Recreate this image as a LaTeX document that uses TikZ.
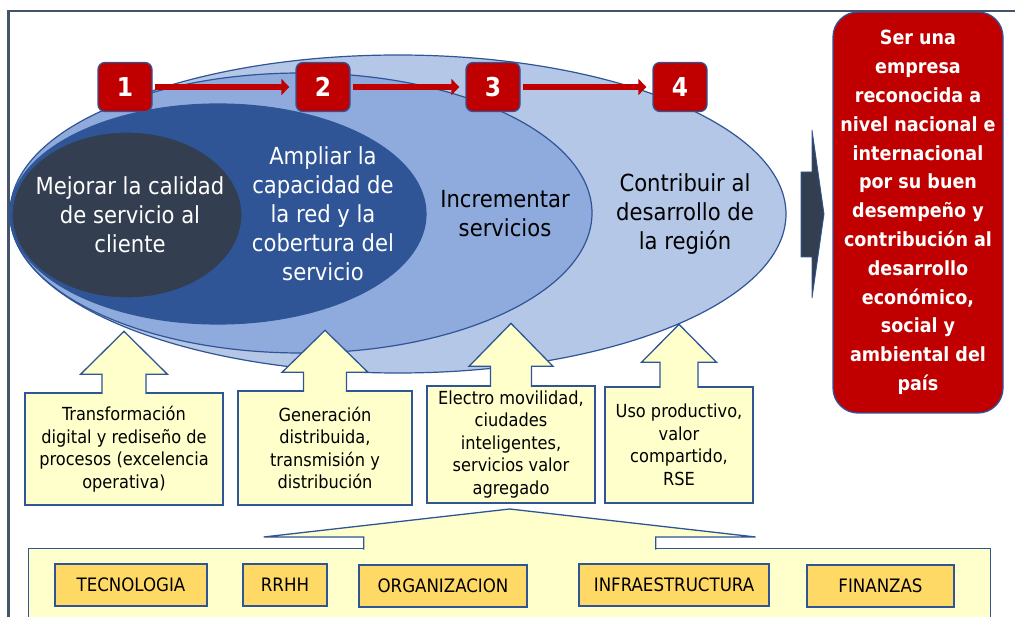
\documentclass[tikz,border=0pt]{standalone}
\usepackage{fontspec}
\setmainfont{DejaVu Sans Condensed}
\usetikzlibrary{arrows.meta,shapes.geometric}

\definecolor{lightblue}{HTML}{B4C7E7}
\definecolor{midblue}{HTML}{8FAADC}
\definecolor{deepblue}{HTML}{2F5597}
\definecolor{slate}{HTML}{333F50}
\definecolor{edgeblue}{HTML}{2F5597}
\definecolor{framegray}{HTML}{44546A}
\definecolor{goalred}{HTML}{C00000}
\definecolor{paleyellow}{HTML}{FFFFCC}
\definecolor{gold}{HTML}{FFD966}

\tikzset{
  ring/.style={ellipse, draw=edgeblue, line width=1.2pt, inner sep=0pt},
  stepbox/.style={rectangle, rounded corners=7pt, fill=goalred, draw=edgeblue,
    line width=1.3pt, minimum width=54pt, minimum height=49pt, text=white,
    font=\fontsize{26}{30}\selectfont\bfseries},
  steparrow/.style={draw=goalred, line width=6pt,
    -{Triangle[length=8pt,width=16pt]}, shorten <=2pt, shorten >=6pt},
  inside/.style={align=center, inner sep=0pt, font=\fontsize{23.5}{29}\selectfont},
  callbox/.style={rectangle, fill=paleyellow, draw=edgeblue, line width=1.3pt,
    align=center, inner sep=0pt, font=\fontsize{18}{22.5}\selectfont},
  shaftline/.style={fill=paleyellow, draw=edgeblue, line width=1.3pt, line join=miter},
  pillar/.style={rectangle, fill=gold, draw=edgeblue, line width=1.3pt,
    minimum height=42pt, inner sep=0pt, font=\fontsize{18.5}{22}\selectfont},
  goalbox/.style={rectangle, rounded corners=25pt, fill=goalred, draw=edgeblue,
    line width=1.3pt, text=white, align=center, inner sep=0pt,
    font=\fontsize{19.5}{28.8}\selectfont\bfseries},
}

% arrow on top of a callout: node, stem half, stem height, head half, head height
\newcommand\upshaft[5]{%
  \filldraw[shaftline] (#1.north) ++(-#2,1.5) -- ++(0,-#3-1.5) -- ++(#2-#4,0)
    -- ++(#4,-#5) -- ++(#4,#5) -- ++(#2-#4,0) -- ++(0,#3+1.5);}

\begin{document}
\begin{tikzpicture}[x=1pt, y=-1pt]
\useasboundingbox (0,0) rectangle (1015,617);

% frame
\draw[framegray, line width=2.5pt] (1015,11) -- (8.5,11) -- (8.5,617);

% nested goals
\node[ring, fill=lightblue, minimum width=776pt, minimum height=318pt] (e4) at (398,214) {};
\node[ring, fill=midblue, minimum width=582pt, minimum height=280pt] (e3) at (301,213) {};
\node[ring, fill=deepblue, minimum width=416pt, minimum height=220pt] (e2) at (218,214) {};
\node[ring, fill=slate, minimum width=230pt, minimum height=166pt] (e1) at (127,215) {};

\node[inside, text=white] (t1) at (130,215) {Mejorar la calidad\\de servicio al\\cliente};
\node[inside, text=white] (t2) at (323,214) {Ampliar la\\capacidad de\\la red y la\\cobertura del\\servicio};
\node[inside] (t3) at (505,214) {Incrementar\\servicios};
\node[inside] (t4) at (685,214) {Contribuir al\\desarrollo de\\la región};

% steps
\node[stepbox] (n1) at (125,87) {1};
\node[stepbox] (n2) at (323,87) {2};
\node[stepbox] (n3) at (493,87) {3};
\node[stepbox] (n4) at (680,87) {4};
\draw[steparrow] (n1) -- (n2);
\draw[steparrow] (n2) -- (n3);
\draw[steparrow] (n3) -- (n4);

% pointer to the vision
\filldraw[fill=slate, draw=edgeblue, line width=0.8pt]
  (801,172) -- (812,172) -- (812,130) -- (824,214) -- (812,298) -- (812,257) -- (801,257) -- cycle;

\node[goalbox, minimum width=170pt, minimum height=401pt] (goal) at (918,212.5)
  {Ser una\\empresa\\reconocida a\\nivel nacional e\\internacional\\por su buen\\desempeño y\\contribución al\\desarrollo\\económico,\\social y\\ambiental del\\país};

% callouts
\node[callbox, minimum width=198pt, minimum height=112pt] (c1) at (124,449)
  {Transformación\\digital y rediseño de\\procesos (excelencia\\operativa)};
\node[callbox, minimum width=174pt, minimum height=114pt] (c2) at (325,448)
  {Generación\\distribuida,\\transmisión y\\distribución};
\node[callbox, minimum width=168pt, minimum height=117pt] (c3) at (511,444.5)
  {Electro movilidad,\\ciudades\\inteligentes,\\servicios valor\\agregado};
\node[callbox, minimum width=148pt, minimum height=116pt] (c4) at (679,445)
  {Uso productivo,\\valor\\compartido,\\RSE};
\upshaft{c1}{22}{18}{43.5}{43}
\upshaft{c2}{21.5}{18}{43}{42}
\upshaft{c3}{20.5}{19}{42}{43}
\upshaft{c4}{19}{24}{37.5}{38}

% base
\node[callbox, minimum width=962pt, minimum height=100pt, anchor=north west] (base) at (28,548) {};
\upshaft{base}{146}{11}{246}{28}

\node[pillar, minimum width=152pt] (k1) at (131,585) {TECNOLOGIA};
\node[pillar, minimum width=84pt] (k2) at (285,585) {RRHH};
\node[pillar, minimum width=168pt] (k3) at (443,586) {ORGANIZACION};
\node[pillar, minimum width=190pt] (k4) at (674,585) {INFRAESTRUCTURA};
\node[pillar, minimum width=147pt] (k5) at (880.5,586) {FINANZAS};
\end{tikzpicture}
\end{document}
